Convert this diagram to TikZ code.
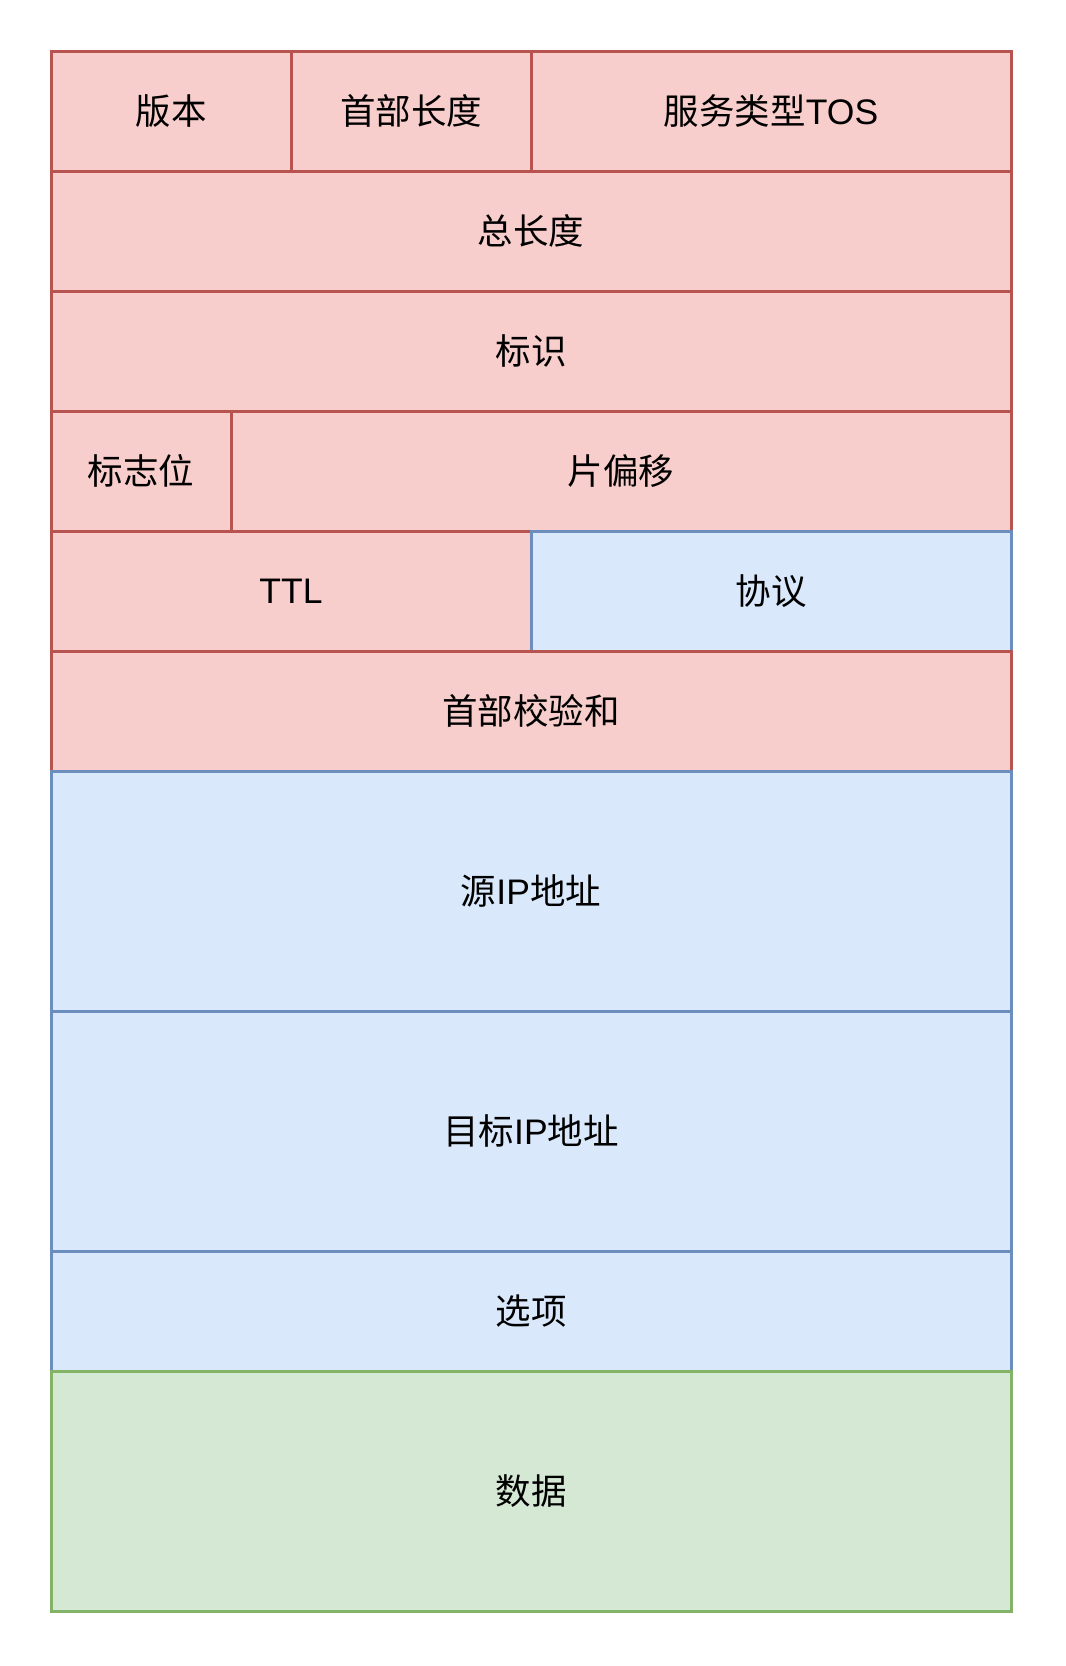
\documentclass[tikz,border=0pt]{standalone}
\usepackage{fontspec}
\setmainfont{Liberation Sans}
\newfontfamily\cjk{Noto Sans CJK SC}
\definecolor{rfill}{HTML}{F8CECC}
\definecolor{rline}{HTML}{B85450}
\definecolor{bfill}{HTML}{DAE8FC}
\definecolor{bline}{HTML}{6C8EBF}
\definecolor{gfill}{HTML}{D5E8D4}
\definecolor{gline}{HTML}{82B366}
\tikzset{
  cell/.style={rectangle, line width=3pt, inner sep=0pt, font=\fontsize{35.5}{40}\selectfont, text=black},
  redcell/.style={cell, fill=rfill, draw=rline},
  bluecell/.style={cell, fill=bfill, draw=bline},
  greencell/.style={cell, fill=gfill, draw=gline},
  w/.style={minimum width=#1pt},
  h/.style={minimum height=#1pt}
}
\begin{document}
\begin{tikzpicture}[x=1pt,y=-1pt]
\useasboundingbox (0,0) rectangle (1066,1666);
\fill[white] (0,0) rectangle (1066,1666);
\node[redcell, w=240, h=120] (ver) at (171,111) {\cjk 版本};
\node[redcell, w=240, h=120] (hlen) at (411,111) {\cjk 首部长度};
\node[redcell, w=480, h=120] (tos) at (771,111) {{\cjk 服务类型}TOS};
\node[redcell, w=960, h=120] (tlen) at (531,231) {\cjk 总长度};
\node[redcell, w=960, h=120] (ident) at (531,351) {\cjk 标识};
\node[redcell, w=180, h=120] (flags) at (141,471) {\cjk 标志位};
\node[redcell, w=780, h=120] (frag) at (621,471) {\cjk 片偏移};
\node[redcell, w=480, h=120] (ttl) at (291,591) {TTL};
\node[bluecell, w=480, h=120] (proto) at (771,591) {\cjk 协议};
\node[redcell, w=960, h=120] (csum) at (531,711) {\cjk 首部校验和};
\node[bluecell, w=960, h=240] (src) at (531,891) {{\cjk 源}IP{\cjk 地址}};
\node[bluecell, w=960, h=240] (dst) at (531,1131) {{\cjk 目标}IP{\cjk 地址}};
\node[bluecell, w=960, h=120] (opt) at (531,1311) {\cjk 选项};
\node[greencell, w=960, h=240] (data) at (531,1491) {\cjk 数据};
\end{tikzpicture}
\end{document}
